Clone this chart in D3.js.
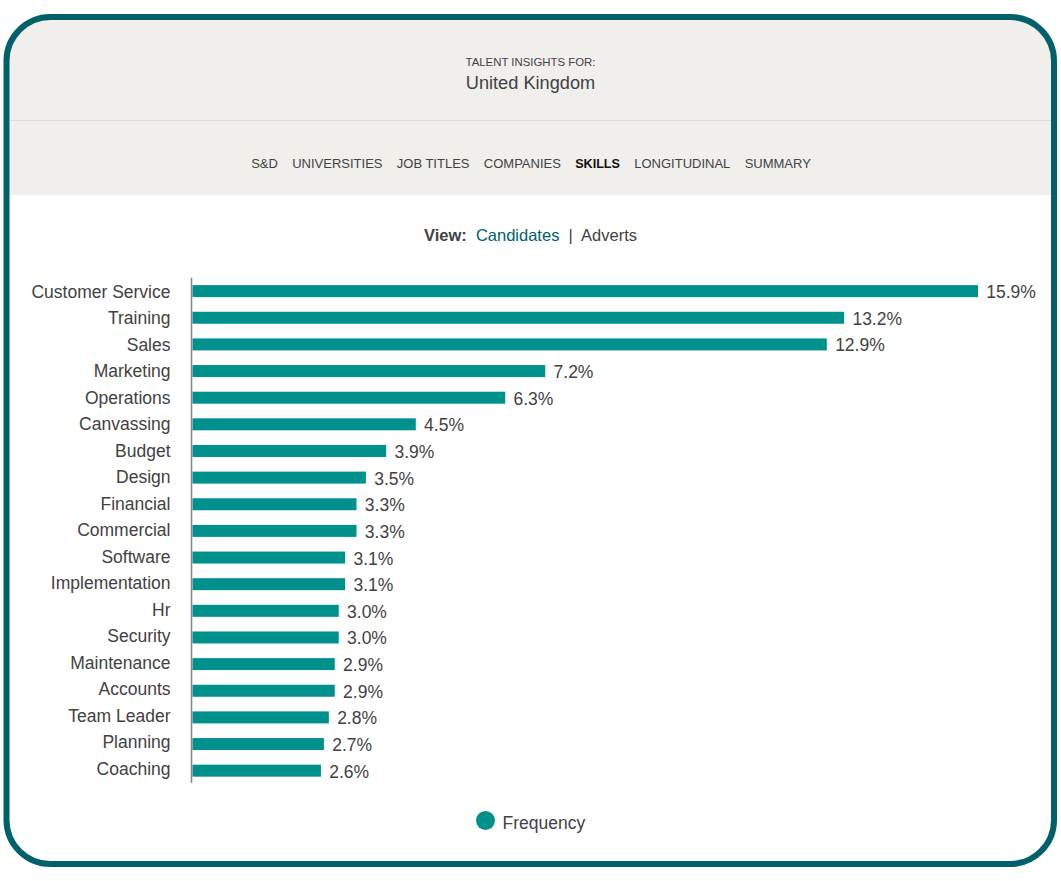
<!DOCTYPE html>
<html>
<head>
<meta charset="utf-8">
<script src="https://cdn.jsdelivr.net/npm/d3@7"></script>
<style>
  html, body { margin: 0; padding: 0; background: #fff; }
  svg { display: block; font-family: "Liberation Sans", Arial, sans-serif; }
</style>
</head>
<body>
<div id="chart"></div>
<script>
var skills = ["Customer Service", "Training", "Sales", "Marketing", "Operations", "Canvassing",
  "Budget", "Design", "Financial", "Commercial", "Software", "Implementation", "Hr", "Security",
  "Maintenance", "Accounts", "Team Leader", "Planning", "Coaching"];
// bar lengths, printed labels kept as shown
var frequency = [15.9, 13.19, 12.84, 7.14, 6.33, 4.52, 3.92, 3.51, 3.32, 3.32, 3.09, 3.09, 2.96, 2.96, 2.88, 2.88, 2.76, 2.66, 2.6];
var printed = ["15.9%", "13.2%", "12.9%", "7.2%", "6.3%", "4.5%", "3.9%", "3.5%", "3.3%", "3.3%",
  "3.1%", "3.1%", "3.0%", "3.0%", "2.9%", "2.9%", "2.8%", "2.7%", "2.6%"];
var navItems = ["S&D", "UNIVERSITIES", "JOB TITLES", "COMPANIES", "SKILLS", "LONGITUDINAL", "SUMMARY"];
var activeNav = "SKILLS";

var W = 1061, H = 881;
var teal = "#00918d", dark = "#00616a", ink = "#424242";

var svg = d3.select("#chart").append("svg")
    .attr("width", W)
    .attr("height", H);

// card: clip the grey header to the rounded frame
var defs = svg.append("defs");
defs.append("clipPath").attr("id", "card")
  .append("rect")
    .attr("x", 6.5).attr("y", 17)
    .attr("width", 1047.5).attr("height", 847)
    .attr("rx", 44).attr("ry", 44);

svg.append("rect")
    .attr("clip-path", "url(#card)")
    .attr("x", 0).attr("y", 0)
    .attr("width", W).attr("height", 195)
    .attr("fill", "#f0efec");
svg.append("line")
    .attr("x1", 9).attr("x2", 1052)
    .attr("y1", 120.5).attr("y2", 120.5)
    .attr("stroke", "#dddcd9");
svg.append("rect")
    .attr("x", 6.5).attr("y", 17)
    .attr("width", 1047.5).attr("height", 847)
    .attr("rx", 44).attr("ry", 44)
    .attr("fill", "none")
    .attr("stroke", dark)
    .attr("stroke-width", 6);

// header
svg.append("text").text("TALENT INSIGHTS FOR:")
    .attr("x", 530.5).attr("y", 66)
    .attr("text-anchor", "middle")
    .attr("font-size", 11.4)
    .attr("fill", ink);
svg.append("text").text("United Kingdom")
    .attr("x", 530.5).attr("y", 89)
    .attr("text-anchor", "middle")
    .attr("font-size", 18.2)
    .attr("fill", ink);

// nav row, items placed one after the other
var nav = svg.append("g");
var navX = 0;
navItems.forEach(function(d) {
  var t = nav.append("text").text(d)
      .attr("x", navX).attr("y", 168)
      .attr("font-size", d == activeNav ? 12.6 : 13)
      .attr("font-weight", d == activeNav ? "bold" : "normal")
      .attr("fill", d == activeNav ? "#111" : ink);
  navX += t.node().getComputedTextLength() + 14.3;
});
nav.attr("transform", "translate(" + (531 - (navX - 14.3) / 2) + ",0)");

// view switch
var view = svg.append("text")
    .attr("x", 530.5).attr("y", 241)
    .attr("text-anchor", "middle")
    .attr("font-size", 16.5)
    .attr("fill", ink)
    .attr("xml:space", "preserve");
view.append("tspan").text("View:").attr("font-weight", "bold");
view.append("tspan").text("  ");
view.append("tspan").text("Candidates").attr("fill", dark);
view.append("tspan").text("  |  ");
view.append("tspan").text("Adverts");

// bars
var x = d3.scaleLinear()
    .domain([0, 15.9])
    .range([192.5, 978]);
var y = d3.scaleBand()
    .domain(skills)
    .range([277.8, 784])
    .paddingInner(0.55)
    .paddingOuter(0.275);
// the category labels sit on a slightly tighter step than the bars
var yLabels = d3.scaleBand()
    .domain(skills)
    .range([279, 782.6]);

svg.append("g")
    .attr("transform", "translate(192,0)")
    .call(d3.axisLeft(yLabels).tickSize(0).tickPadding(21.5))
    .call(function(g) {
      g.select(".domain").remove();
      g.selectAll("text")
          .attr("font-family", "Liberation Sans, Arial, sans-serif")
          .attr("font-size", 17.5)
          .attr("fill", ink);
    });

svg.append("line")
    .attr("x1", 191.5).attr("x2", 191.5)
    .attr("y1", y.range()[0]).attr("y2", y.range()[1] - 1)
    .attr("stroke", "#8a8a8a")
    .attr("stroke-width", 1.6);

svg.append("g").selectAll("rect")
    .data(frequency)
    .enter().append("rect")
    .attr("x", x(0))
    .attr("y", function(d, i) { return y(skills[i]); })
    .attr("width", function(d) { return x(d) - x(0); })
    .attr("height", y.bandwidth())
    .attr("fill", teal);

svg.append("g").selectAll("text")
    .data(frequency)
    .enter().append("text")
    .attr("x", function(d) { return x(d) + 8.3; })
    .attr("y", function(d, i) { return y(skills[i]) + y.bandwidth() / 2 + 7; })
    .attr("font-size", 17.5)
    .attr("fill", ink)
    .text(function(d, i) { return printed[i]; });

// legend
svg.append("circle")
    .attr("cx", 485.5).attr("cy", 820.5).attr("r", 9.5)
    .attr("fill", teal);
svg.append("text").text("Frequency")
    .attr("x", 502.5).attr("y", 829)
    .attr("font-size", 17.5)
    .attr("fill", ink);
</script>
</body>
</html>
